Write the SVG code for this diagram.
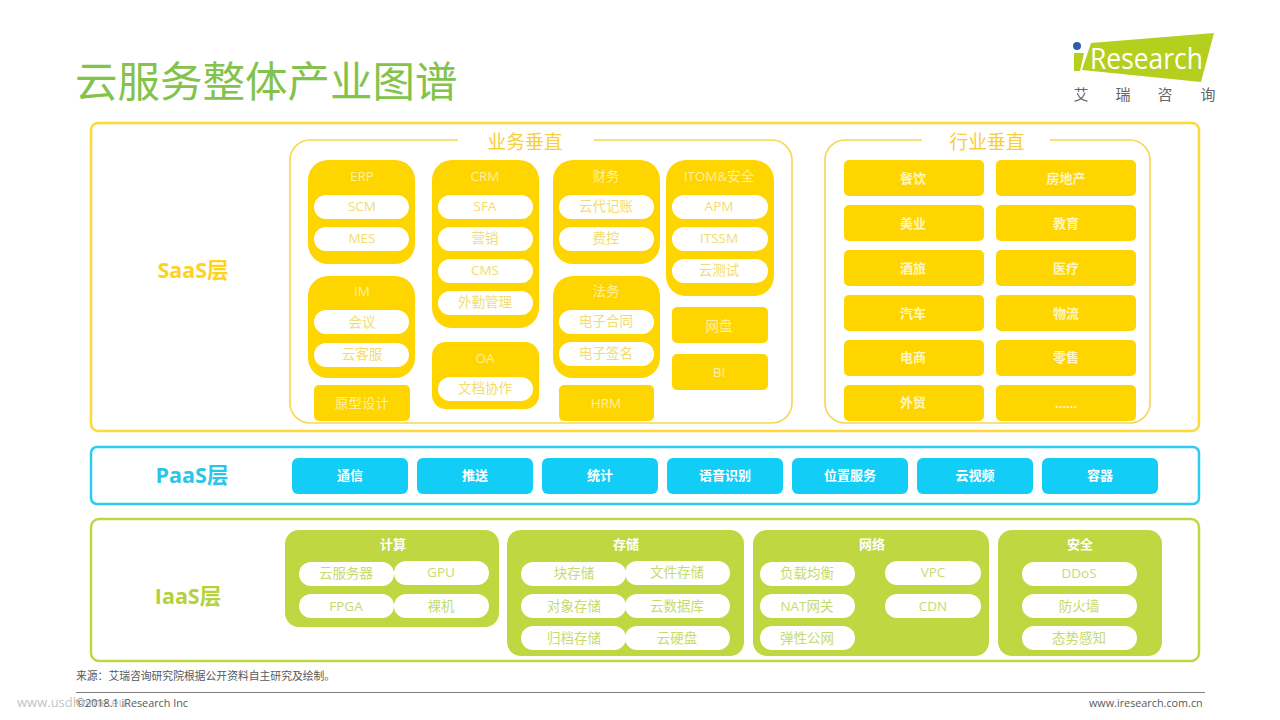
<svg xmlns="http://www.w3.org/2000/svg" width="1280" height="720" viewBox="0 0 1280 720">
<style>
text{font-family:"Open Sans","Noto Sans CJK SC",sans-serif;text-anchor:middle}
.o{fill:#fff;stroke-width:2.5}
.y{fill:#FFD500}.b{fill:#12CDF5}.g{fill:#BFD842}
.p{fill:#fff}
.ty{font-size:13.5px;fill:#FFF0A0}
.py{font-size:13.5px;fill:#F3DC6E}
.pg{font-size:13.5px;fill:#C6DB6E}
.bw{font-size:13px;font-weight:700;fill:#FFF6C4}
.bb{font-size:13px;font-weight:700;fill:#fff}
.h{font-size:21.5px;font-weight:700}
.fr{fill:none;stroke:#F5D84F;stroke-width:1.6}
.ft{font-size:10.8px;fill:#595959;text-anchor:start}
</style>
<rect width="1280" height="720" fill="#fff"/>
<text x="75" y="96.5" style="font-size:42.5px;fill:#84C34B;text-anchor:start;font-family:'Noto Sans CJK SC',sans-serif">云服务整体产业图谱</text>
<g id="logo">
<circle cx="1077" cy="46" r="4" fill="#2F5FA5"/>
<polygon points="1074,53 1084,53 1080,71 1074,71" fill="#B4CF1E"/>
<polygon points="1091,43 1214,33 1201,82 1082,70" fill="#B4CF1E"/>
<text x="1090" y="69" textLength="113" lengthAdjust="spacingAndGlyphs" style="font-size:29px;fill:#fff;text-anchor:start;font-family:'Open Sans',sans-serif">Research</text>
<g style="font-size:15px;fill:#666"><text x="1081" y="100">艾</text><text x="1123" y="100">瑞</text><text x="1165" y="100">咨</text><text x="1208" y="100">询</text></g>
</g>
<g id="saas">
<rect class="o" x="91" y="123" width="1108" height="308" rx="7" stroke="#FFD83A"/>
<text class="h" x="193" y="278" fill="#FFD21F">SaaS层</text>
<path class="fr" d="M458 140H310a20 20 0 0 0-20 20V403a20 20 0 0 0 20 20H772a20 20 0 0 0 20-20V160a20 20 0 0 0-20-20H594"/>
<text x="525" y="149" style="font-size:18.8px;fill:#F8CF3A">业务垂直</text>
<path class="fr" d="M922 140H845a20 20 0 0 0-20 20V403a20 20 0 0 0 20 20H1130a20 20 0 0 0 20-20V160a20 20 0 0 0-20-20H1050"/>
<text x="987" y="149" style="font-size:18.8px;fill:#F8CF3A">行业垂直</text>
</g>
<g id="erp"><rect class="y" x="308" y="160" width="107" height="104" rx="20"/><text class="ty" x="362" y="181">ERP</text><rect class="p" x="314" y="195" width="95" height="24" rx="12"/><text class="py" x="362" y="211">SCM</text><rect class="p" x="314" y="227" width="95" height="24" rx="12"/><text class="py" x="362" y="243">MES</text></g>
<g id="crm"><rect class="y" x="432" y="160" width="107" height="168" rx="20"/><text class="ty" x="485" y="181">CRM</text><rect class="p" x="438" y="195" width="95" height="24" rx="12"/><text class="py" x="485" y="211">SFA</text><rect class="p" x="438" y="227" width="95" height="24" rx="12"/><text class="py" x="485" y="243">营销</text><rect class="p" x="438" y="259" width="95" height="24" rx="12"/><text class="py" x="485" y="275">CMS</text><rect class="p" x="438" y="291" width="95" height="24" rx="12"/><text class="py" x="485" y="307">外勤管理</text></g>
<g id="fin"><rect class="y" x="553" y="160" width="107" height="104" rx="20"/><text class="ty" x="606" y="181">财务</text><rect class="p" x="559" y="195" width="95" height="24" rx="12"/><text class="py" x="606" y="211">云代记账</text><rect class="p" x="559" y="227" width="95" height="24" rx="12"/><text class="py" x="606" y="243">费控</text></g>
<g id="itom"><rect class="y" x="666" y="160" width="108" height="136" rx="20"/><text class="ty" x="719" y="181">ITOM&amp;安全</text><rect class="p" x="672" y="195" width="96" height="24" rx="12"/><text class="py" x="719" y="211">APM</text><rect class="p" x="672" y="227" width="96" height="24" rx="12"/><text class="py" x="719" y="243">ITSSM</text><rect class="p" x="672" y="259" width="96" height="24" rx="12"/><text class="py" x="719" y="275">云测试</text></g>
<g id="im"><rect class="y" x="308" y="276" width="107" height="102" rx="20"/><text class="ty" x="362" y="296">IM</text><rect class="p" x="314" y="310" width="95" height="24" rx="12"/><text class="py" x="362" y="327">会议</text><rect class="p" x="314" y="343" width="95" height="24" rx="12"/><text class="py" x="362" y="359">云客服</text></g>
<g id="legal"><rect class="y" x="553" y="276" width="107" height="102" rx="20"/><text class="ty" x="606" y="296">法务</text><rect class="p" x="559" y="310" width="95" height="24" rx="12"/><text class="py" x="606" y="326">电子合同</text><rect class="p" x="559" y="342" width="95" height="24" rx="12"/><text class="py" x="606" y="358">电子签名</text></g>
<g id="oa"><rect class="y" x="432" y="342" width="107" height="67" rx="14"/><text class="ty" x="485" y="363">OA</text><rect class="p" x="438" y="377" width="95" height="24" rx="12"/><text class="py" x="485" y="393">文档协作</text></g>
<g id="proto"><rect class="y" x="314" y="385" width="96" height="36" rx="5"/><text class="ty" x="362" y="408">原型设计</text></g>
<g id="hrm"><rect class="y" x="559" y="385" width="95" height="36" rx="5"/><text class="ty" x="606" y="408">HRM</text></g>
<g id="disk"><rect class="y" x="672" y="307" width="96" height="36" rx="5"/><text class="ty" x="719" y="331">网盘</text></g>
<g id="bi"><rect class="y" x="672" y="354" width="96" height="36" rx="5"/><text class="ty" x="719" y="377">BI</text></g>
<g id="ind1"><rect class="y" x="844" y="160" width="140" height="36" rx="5"/><text class="bw" x="913" y="183">餐饮</text></g>
<g id="ind2"><rect class="y" x="996" y="160" width="140" height="36" rx="5"/><text class="bw" x="1066" y="183">房地产</text></g>
<g id="ind3"><rect class="y" x="844" y="205" width="140" height="36" rx="5"/><text class="bw" x="913" y="228">美业</text></g>
<g id="ind4"><rect class="y" x="996" y="205" width="140" height="36" rx="5"/><text class="bw" x="1066" y="228">教育</text></g>
<g id="ind5"><rect class="y" x="844" y="250" width="140" height="36" rx="5"/><text class="bw" x="913" y="273">酒旅</text></g>
<g id="ind6"><rect class="y" x="996" y="250" width="140" height="36" rx="5"/><text class="bw" x="1066" y="273">医疗</text></g>
<g id="ind7"><rect class="y" x="844" y="295" width="140" height="36" rx="5"/><text class="bw" x="913" y="318">汽车</text></g>
<g id="ind8"><rect class="y" x="996" y="295" width="140" height="36" rx="5"/><text class="bw" x="1066" y="318">物流</text></g>
<g id="ind9"><rect class="y" x="844" y="340" width="140" height="36" rx="5"/><text class="bw" x="913" y="362">电商</text></g>
<g id="ind10"><rect class="y" x="996" y="340" width="140" height="36" rx="5"/><text class="bw" x="1066" y="362">零售</text></g>
<g id="ind11"><rect class="y" x="844" y="385" width="140" height="36" rx="5"/><text class="bw" x="913" y="407">外贸</text></g>
<g id="ind12"><rect class="y" x="996" y="385" width="140" height="36" rx="5"/><text class="bw" x="1066" y="408">……</text></g>
<g id="paas">
<rect class="o" x="91" y="447" width="1108" height="57" rx="6" stroke="#2CCBEF"/>
<text class="h" x="192" y="483" fill="#2CC5EA">PaaS层</text>
<rect class="b" x="292" y="458" width="116" height="36" rx="6"/><text class="bb" x="350" y="480">通信</text>
<rect class="b" x="417" y="458" width="116" height="36" rx="6"/><text class="bb" x="475" y="480">推送</text>
<rect class="b" x="542" y="458" width="116" height="36" rx="6"/><text class="bb" x="600" y="480">统计</text>
<rect class="b" x="667" y="458" width="116" height="36" rx="6"/><text class="bb" x="725" y="480">语音识别</text>
<rect class="b" x="792" y="458" width="116" height="36" rx="6"/><text class="bb" x="850" y="480">位置服务</text>
<rect class="b" x="917" y="458" width="116" height="36" rx="6"/><text class="bb" x="975" y="480">云视频</text>
<rect class="b" x="1042" y="458" width="116" height="36" rx="6"/><text class="bb" x="1100" y="480">容器</text>
</g>
<g id="iaas">
<rect class="o" x="91" y="519" width="1108" height="142" rx="8" stroke="#BFD842"/>
<text class="h" x="188" y="604" fill="#B5D13C">IaaS层</text>
</g>
<g id="compute"><rect class="g" x="285" y="530" width="214" height="97" rx="14"/><text class="bb" x="393" y="549">计算</text>
<rect class="p" x="299" y="562" width="95" height="24" rx="12"/><text class="pg" x="346" y="578">云服务器</text>
<rect class="p" x="394" y="561" width="95" height="24" rx="12"/><text class="pg" x="441" y="577">GPU</text>
<rect class="p" x="299" y="594" width="95" height="24" rx="12"/><text class="pg" x="346" y="611">FPGA</text>
<rect class="p" x="394" y="594" width="95" height="24" rx="12"/><text class="pg" x="441" y="611">裸机</text></g>
<g id="storage"><rect class="g" x="507" y="530" width="237" height="126" rx="14"/><text class="bb" x="626" y="549">存储</text>
<rect class="p" x="521" y="562" width="105" height="24" rx="12"/><text class="pg" x="574" y="578">块存储</text>
<rect class="p" x="625" y="561" width="105" height="24" rx="12"/><text class="pg" x="677" y="577">文件存储</text>
<rect class="p" x="521" y="594" width="105" height="24" rx="12"/><text class="pg" x="574" y="611">对象存储</text>
<rect class="p" x="625" y="594" width="105" height="24" rx="12"/><text class="pg" x="677" y="611">云数据库</text>
<rect class="p" x="521" y="626" width="105" height="24" rx="12"/><text class="pg" x="574" y="643">归档存储</text>
<rect class="p" x="625" y="626" width="105" height="24" rx="12"/><text class="pg" x="677" y="643">云硬盘</text></g>
<g id="network"><rect class="g" x="753" y="530" width="236" height="126" rx="14"/><text class="bb" x="872" y="549">网络</text>
<rect class="p" x="760" y="562" width="95" height="24" rx="12"/><text class="pg" x="807" y="578">负载均衡</text>
<rect class="p" x="885" y="561" width="96" height="24" rx="12"/><text class="pg" x="933" y="577">VPC</text>
<rect class="p" x="760" y="594" width="95" height="24" rx="12"/><text class="pg" x="807" y="611">NAT网关</text>
<rect class="p" x="885" y="594" width="96" height="24" rx="12"/><text class="pg" x="933" y="611">CDN</text>
<rect class="p" x="760" y="626" width="95" height="24" rx="12"/><text class="pg" x="807" y="643">弹性公网</text></g>
<g id="security"><rect class="g" x="998" y="530" width="164" height="126" rx="14"/><text class="bb" x="1080" y="549">安全</text>
<rect class="p" x="1022" y="562" width="115" height="24" rx="12"/><text class="pg" x="1079" y="578">DDoS</text>
<rect class="p" x="1022" y="594" width="115" height="24" rx="12"/><text class="pg" x="1079" y="611">防火墙</text>
<rect class="p" x="1022" y="626" width="115" height="24" rx="12"/><text class="pg" x="1079" y="643">态势感知</text></g>
<g id="footer">
<text class="ft" x="76" y="680">来源：艾瑞咨询研究院根据公开资料自主研究及绘制。</text>
<line x1="76" y1="692.5" x2="1205" y2="692.5" stroke="#7F7F7F" stroke-width="1"/>
<text x="17" y="707" style="font-size:13px;fill:#C4C4C4;text-anchor:start">www.usdhome.eu</text>
<text class="ft" x="76" y="707">©2018.1 iResearch Inc</text>
<text class="ft" x="1089" y="707">www.iresearch.com.cn</text>
</g>
</svg>
